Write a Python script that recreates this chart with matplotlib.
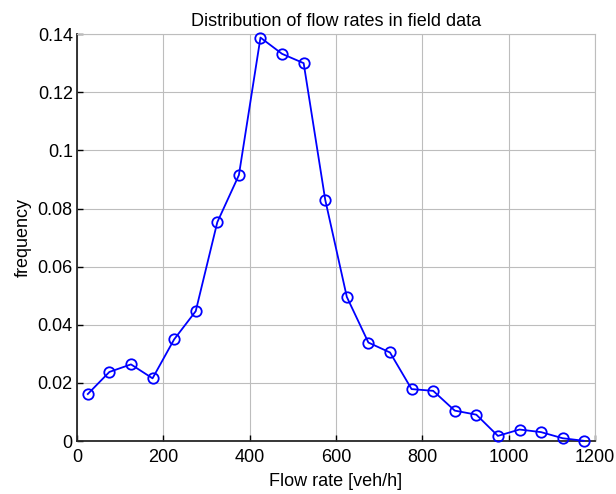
import matplotlib
matplotlib.use("Agg")
import matplotlib.pyplot as plt

plt.rcParams['font.family'] = ['Liberation Sans', 'DejaVu Sans']

flow = [25, 75, 125, 175, 225, 275, 325, 375, 425, 475, 525, 575,
        625, 675, 725, 775, 825, 875, 925, 975, 1025, 1075, 1125, 1175]
freq = [0.0162, 0.0238, 0.0264, 0.0216, 0.0350, 0.0447, 0.0753, 0.0915,
        0.1388, 0.1332, 0.1300, 0.0830, 0.0496, 0.0339, 0.0305, 0.0179,
        0.0173, 0.0105, 0.0091, 0.0018, 0.0040, 0.0031, 0.0010, 0.0001]
xticks = [0, 200, 400, 600, 800, 1000, 1200]
yticks = [0, 0.02, 0.04, 0.06, 0.08, 0.1, 0.12, 0.14]
ytick_labels = ['0', '0.02', '0.04', '0.06', '0.08', '0.1', '0.12', '0.14']

fig = plt.figure(figsize=(6.16, 4.94), dpi=100)
ax = fig.add_axes([0.125, 0.107, 0.841, 0.824])
ax.plot(flow, freq, color='#0000ff', linewidth=1.3, marker='o', markersize=7.5,
        markerfacecolor='none', markeredgecolor='#0000ff', markeredgewidth=1.3,
        clip_on=False, zorder=3)
ax.set_xlim(0, 1200)
ax.set_ylim(0, 0.14)
ax.set_xticks(xticks)
ax.set_xticklabels([str(t) for t in xticks])
ax.set_yticks(yticks)
ax.set_yticklabels(ytick_labels)
ax.grid(True, color='#bdbdbd', linewidth=0.8)
ax.set_axisbelow(True)
ax.tick_params(direction='in', labelsize=13, length=4, width=1, colors='black', pad=3)
ax.tick_params(axis='x', pad=6)
for s in ['left', 'bottom']:
    ax.spines[s].set_color('#262626')
    ax.spines[s].set_linewidth(1.3)
for s in ['top', 'right']:
    ax.spines[s].set_color('#bdbdbd')
    ax.spines[s].set_linewidth(0.8)
ax.set_xlabel('Flow rate [veh/h]', fontsize=13, labelpad=5)
ax.set_ylabel('frequency', fontsize=13, labelpad=4)
ax.set_title('Distribution of flow rates in field data', fontsize=13, pad=6)
fig.savefig('out.png', dpi=100)
